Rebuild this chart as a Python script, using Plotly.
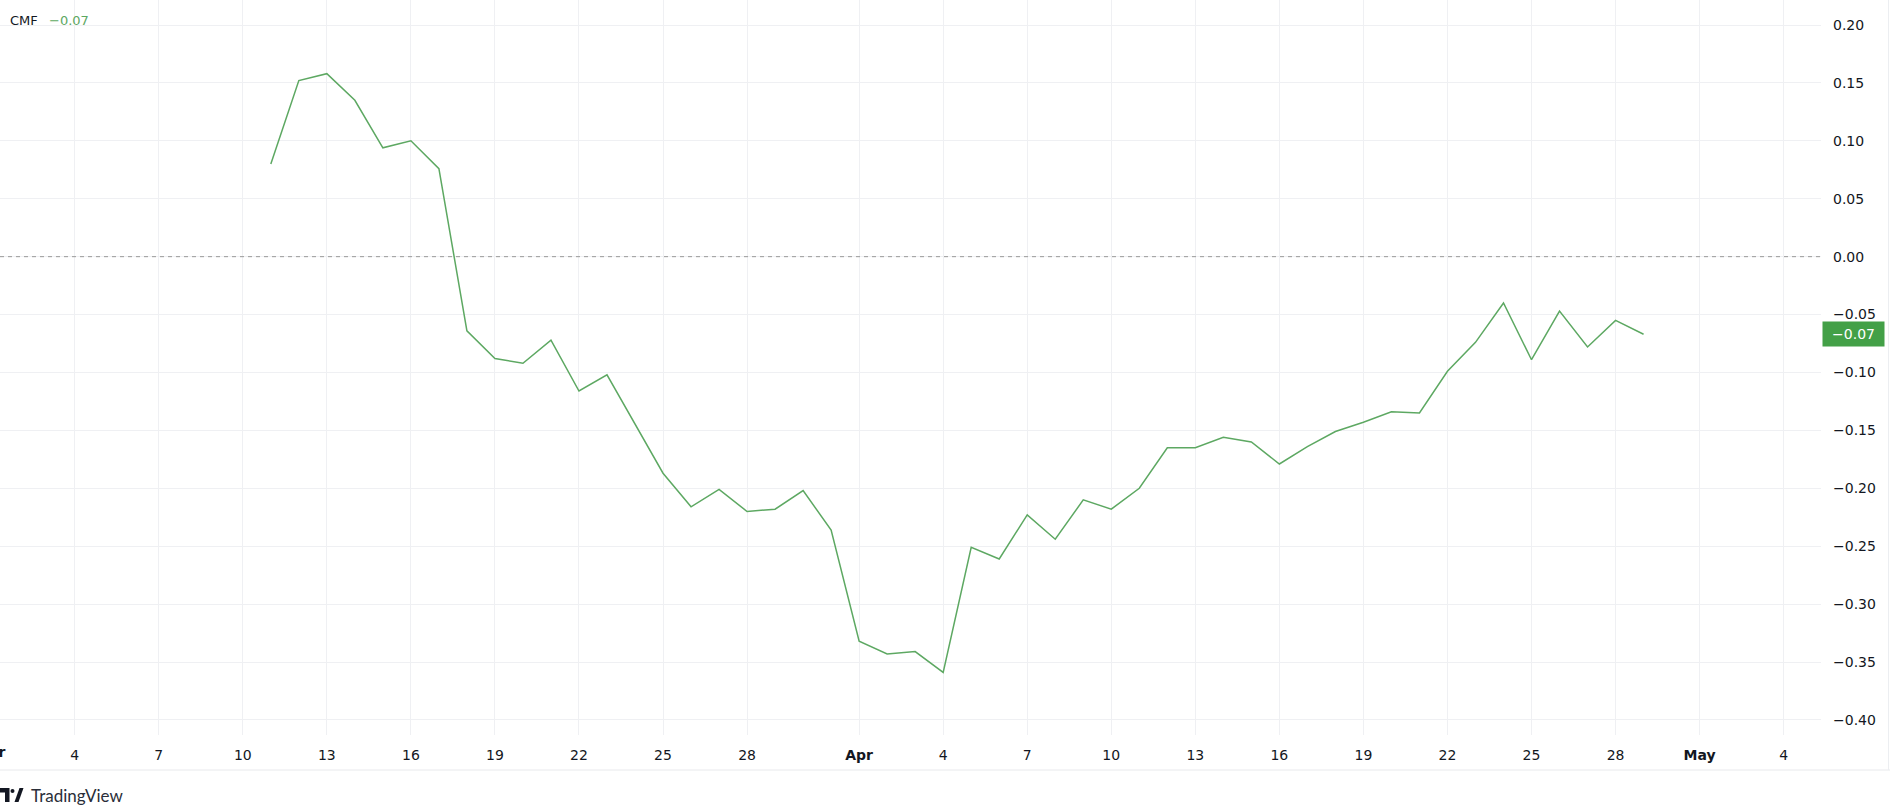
import pandas as pd
import plotly.graph_objects as go

# ---- data ----
dates = pd.date_range("2025-03-11", "2025-04-29", freq="D")
cmf = [0.080, 0.152, 0.158, 0.135, 0.094, 0.100, 0.076, -0.064, -0.088, -0.092,
       -0.072, -0.116, -0.102, -0.144, -0.187, -0.216, -0.201, -0.220, -0.218, -0.202,
       -0.236,
       -0.332, -0.343, -0.341, -0.359, -0.251, -0.261, -0.223, -0.244, -0.210, -0.218,
       -0.200, -0.165, -0.165, -0.156, -0.160, -0.179, -0.164, -0.151, -0.143, -0.134,
       -0.135, -0.099, -0.074, -0.040, -0.089, -0.047, -0.078, -0.055, -0.067]

tick_dates = ["2025-03-04", "2025-03-07", "2025-03-10", "2025-03-13", "2025-03-16",
              "2025-03-19", "2025-03-22", "2025-03-25", "2025-03-28", "2025-04-01",
              "2025-04-04", "2025-04-07", "2025-04-10", "2025-04-13", "2025-04-16",
              "2025-04-19", "2025-04-22", "2025-04-25", "2025-04-28", "2025-05-01",
              "2025-05-04"]
tick_labels = ["4", "7", "10", "13", "16", "19", "22", "25", "28", "<b>Apr</b>",
               "4", "7", "10", "13", "16", "19", "22", "25", "28", "<b>May</b>", "4"]

y_ticks = [0.20, 0.15, 0.10, 0.05, 0.00, -0.05, -0.10, -0.15, -0.20, -0.25, -0.30, -0.35, -0.40]
y_labels = ["0.20", "0.15", "0.10", "0.05", "0.00", "\u22120.05", "\u22120.10", "\u22120.15",
            "\u22120.20", "\u22120.25", "\u22120.30", "\u22120.35", "\u22120.40"]

last_value = cmf[-1]
LINE = "#5da862"
BOX = "#43a047"
GRID = "#eff0f3"
TXT = "#131722"
FONT = "'DejaVu Sans', sans-serif"

# pixel helpers (plot area: x 0..1821, y 0..735)
PW, PH = 1821.0, 735.0


def px(x):
    return x / PW


def py(y):
    return (PH - y) / PH


fig = go.Figure()
fig.add_trace(go.Scatter(x=dates, y=cmf, mode="lines",
                         line=dict(color=LINE, width=1.5), hoverinfo="skip",
                         showlegend=False))

logo_bar = "M{},{} L{},{} L{},{} L{},{} L{},{} L{},{} Z".format(
    px(0), py(788), px(9.5), py(788), px(9.5), py(802), px(5), py(802),
    px(5), py(792.5), px(0), py(792.5))
logo_v = "M{},{} L{},{} L{},{} L{},{} Z".format(
    px(14.5), py(802), px(19.5), py(788), px(23.5), py(788), px(18.5), py(802))

fig.update_layout(
    width=1890, height=807,
    margin=dict(l=0, r=69, t=0, b=72),
    paper_bgcolor="white", plot_bgcolor="white",
    font=dict(family=FONT, size=14, color=TXT),
    xaxis=dict(range=["2025-03-01 08:00", "2025-05-05 08:00"],
               tickmode="array", tickvals=tick_dates, ticktext=tick_labels,
               showgrid=True, gridcolor=GRID, gridwidth=1, zeroline=False,
               showline=False, ticks="", ticklabelstandoff=10,
               tickfont=dict(size=14, color=TXT, family=FONT)),
    yaxis=dict(range=[-0.413, 0.2216], side="right",
               tickmode="array", tickvals=y_ticks, ticktext=y_labels,
               showgrid=True, gridcolor=GRID, gridwidth=1, zeroline=False,
               showline=False, ticks="", ticklabelstandoff=11,
               tickfont=dict(size=14, color=TXT, family=FONT)),
    shapes=[
        dict(type="line", xref="paper", yref="y", x0=0, x1=1, y0=0, y1=0,
             line=dict(color="#9a9a9a", width=1, dash="4px,4px")),
        dict(type="line", xref="paper", yref="paper", x0=0, x1=px(1890),
             y0=py(770), y1=py(770), line=dict(color="#e8e9ec", width=1)),
        dict(type="line", xref="paper", yref="paper", x0=px(1888.5), x1=px(1888.5),
             y0=py(770), y1=py(0), line=dict(color="#eceef1", width=1)),
        dict(type="path", xref="paper", yref="paper", path=logo_bar,
             fillcolor=TXT, line=dict(width=0)),
        dict(type="circle", xref="paper", yref="paper",
             x0=px(10.5), x1=px(14.5), y0=py(793), y1=py(789),
             fillcolor=TXT, line=dict(width=0)),
        dict(type="path", xref="paper", yref="paper", path=logo_v,
             fillcolor=TXT, line=dict(width=0)),
    ],
    annotations=[
        dict(xref="paper", yref="paper", x=px(8), y=py(20),
             xanchor="left", yanchor="middle", showarrow=False,
             text="CMF", font=dict(size=13, color=TXT, family=FONT)),
        dict(xref="paper", yref="paper", x=px(47), y=py(20),
             xanchor="left", yanchor="middle", showarrow=False,
             text="\u22120.07", font=dict(size=13, color=LINE, family=FONT)),
        dict(xref="paper", yref="y", x=px(1822), y=last_value,
             xanchor="left", yanchor="middle", showarrow=False,
             text="\u22120.07", bgcolor=BOX, borderpad=3, width=55, height=18,
             align="center",
             font=dict(size=14, color="white", family=FONT)),
        dict(xref="paper", yref="paper", x=px(-10), y=py(752.5),
             xanchor="center", yanchor="middle", showarrow=False,
             text="<b>Mar</b>", font=dict(size=14, color=TXT, family=FONT)),
        dict(xref="paper", yref="paper", x=px(29), y=py(795),
             xanchor="left", yanchor="middle", showarrow=False,
             text="TradingView",
             font=dict(size=17, color="#2a2e39", family="Lato, sans-serif")),
    ],
)

fig.write_html("out.html", config={"displayModeBar": False},
               post_script="document.body.style.margin='0';document.body.style.overflow='hidden';")
